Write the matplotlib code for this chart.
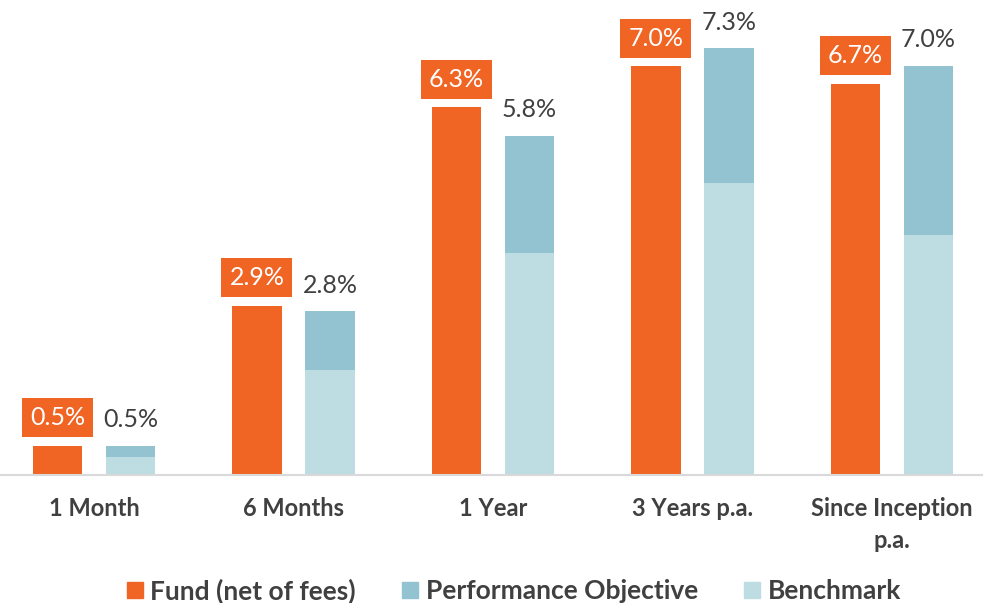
import numpy as np
import matplotlib
matplotlib.use("Agg")
import matplotlib.pyplot as plt
from matplotlib.patches import Patch

# --- data ---
categories = ["1 Month", "6 Months", "1 Year", "3 Years p.a.", "Since Inception\np.a."]
fund = [0.5, 2.9, 6.3, 7.0, 6.7]
objective = [0.5, 2.8, 5.8, 7.3, 7.0]
benchmark = [0.3, 1.8, 3.8, 5.0, 4.1]

ORANGE = "#F06424"
OBJ_BLUE = "#93C3D0"
BENCH_BLUE = "#BEDDE3"
TEXT = "#404040"

plt.rcParams['font.family'] = ['Lato', 'DejaVu Sans']

fig = plt.figure(figsize=(9.83, 6.03), dpi=100)
ax = fig.add_axes([0.0, 0.2123, 1.0, 0.7877])

x = np.arange(len(categories))
w = 0.246
off = 0.183

obj_top = np.array(objective) - np.array(benchmark)

ax.bar(x - off, fund, w, color=ORANGE)
ax.bar(x + off, benchmark, w, color=BENCH_BLUE)
ax.bar(x + off, obj_top, w, bottom=benchmark, color=OBJ_BLUE)

for xi, v in zip(x, fund):
    ax.annotate(f"{v:.1f}%", (xi - off, v), xytext=(0, 20), textcoords="offset points",
                ha="center", va="center", fontsize=18, color="white",
                bbox=dict(boxstyle="square,pad=0.32", fc=ORANGE, ec="none"))
for xi, v in zip(x, objective):
    ax.annotate(f"{v:.1f}%", (xi + off, v), xytext=(0, 19), textcoords="offset points",
                ha="center", va="center", fontsize=18, color=TEXT)

ax.set_xlim(-0.471, 4.456)
ax.set_ylim(0, 8.13)
ax.set_xticks(x)
ax.set_xticklabels(categories, fontsize=17, fontweight="bold", color=TEXT, linespacing=1.45)
ax.tick_params(axis="x", length=0, pad=16)
ax.set_yticks([])
for s in ["top", "left", "right"]:
    ax.spines[s].set_visible(False)
ax.spines["bottom"].set_color("#D9D9D9")
ax.spines["bottom"].set_linewidth(1.5)

handles = [Patch(color=ORANGE, label="Fund (net of fees)"),
           Patch(color=OBJ_BLUE, label="Performance Objective"),
           Patch(color=BENCH_BLUE, label="Benchmark")]
leg = fig.legend(handles=handles, loc="center", bbox_to_anchor=(0.523, 0.02), ncol=3,
                 frameon=False, handlelength=0.6, handleheight=0.6, handletextpad=0.3,
                 columnspacing=1.75, prop=dict(size=19, weight="bold"))
for t in leg.get_texts():
    t.set_color(TEXT)

fig.savefig("out.png", dpi=100)
